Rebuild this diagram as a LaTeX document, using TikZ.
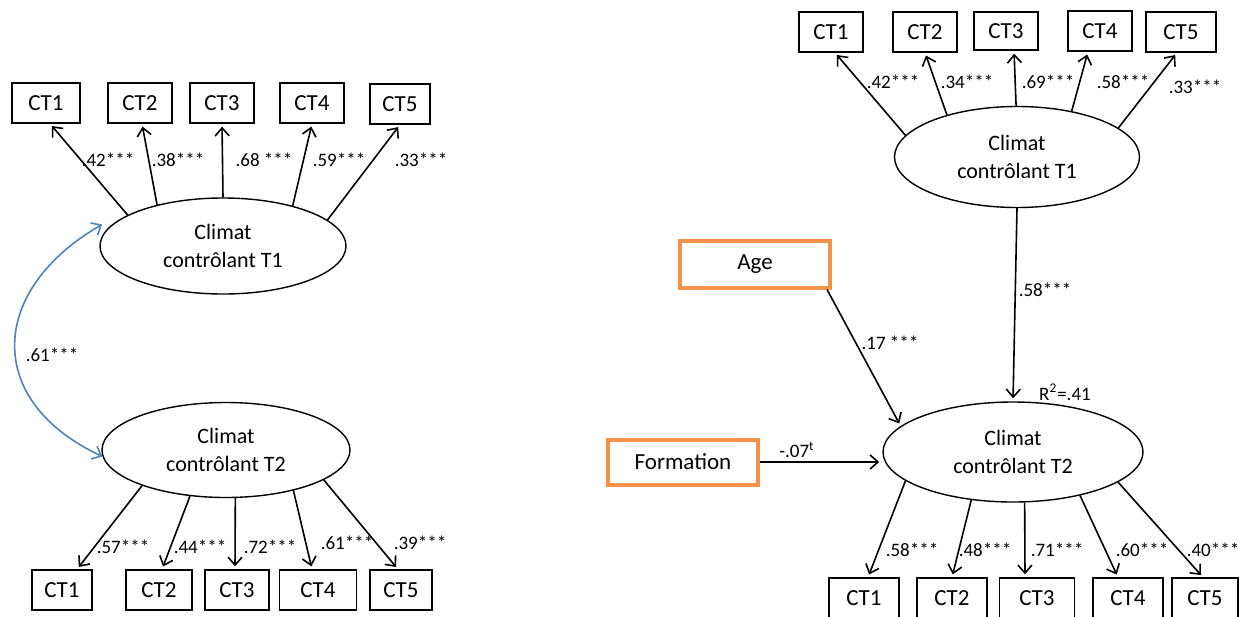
\documentclass[tikz,border=0pt]{standalone}
\usepackage{fontspec}
\setmainfont{Carlito}
\usepackage{tikz}
\usetikzlibrary{arrows.meta, positioning, shapes.geometric}
\tikzset{>={Straight Barb[length=4pt,width=7pt]}}
\usepackage{xcolor}
\definecolor{semblue}{RGB}{79,129,189}
\definecolor{semorange}{RGB}{245,146,72}
\tikzset{
  item/.style={draw, line width=0.7pt, minimum width=32pt, minimum height=20pt, inner sep=0pt, font=\fontsize{11.5}{13}\selectfont},
  latent/.style={ellipse, draw, line width=0.7pt, align=center, inner sep=0pt, font=\fontsize{11}{14}\selectfont},
  covbox/.style={draw=semorange, line width=2pt, minimum width=75pt, minimum height=23.5pt, inner sep=0pt, font=\fontsize{11.5}{13}\selectfont},
  coef/.style={inner sep=0pt, font=\fontsize{9.5}{11}\selectfont},
  load/.style={->, line width=0.8pt, shorten >=1.5pt},
  covar/.style={<->, draw=semblue, line width=0.8pt}
}

\begin{document}
\begin{tikzpicture}[x=0.5pt, y=-0.5pt]
  \useasboundingbox (0,0) rectangle (1242,616);
  \node[item, minimum width=34pt] (la1) at (46,103) {CT1};
  \node[item] (la2) at (140,103) {CT2};
  \node[item] (la3) at (222,103) {CT3};
  \node[item] (la4) at (312,103) {CT4};
  \node[item, minimum width=30pt] (la5) at (400,104) {CT5};
  \node[latent, minimum width=123pt, minimum height=48pt] (lclim1) at (223,246) {Climat\\contrôlant T1};
  \node[latent, minimum width=124pt, minimum height=47.5pt] (lclim2) at (226,450) {Climat\\contrôlant T2};
  \node[item, minimum width=30pt] (lb1) at (62,590) {CT1};
  \node[item, minimum width=33pt] (lb2) at (159,590) {CT2};
  \node[item] (lb3) at (237,590) {CT3};
  \node[item, minimum width=38.5pt] (lb4) at (318,590) {CT4};
  \node[item, minimum width=31pt] (lb5) at (401,590) {CT5};

  \draw[load] (lclim1.162) -- ([xshift=2pt]la1.south);
  \draw[load] (lclim1.148) -- ([xshift=1pt]la2.south);
  \draw[load] (lclim1.north) -- (la3.south);
  \draw[load] (lclim1.30) -- (la4.south);
  \draw[load] (lclim1.14) -- (la5.south);
  \node[coef] (l42) at (108,160) {.42***};
  \node[coef] (l38) at (178,160) {.38***};
  \node[coef] (l68) at (264,160) {.68 ***};
  \node[coef] (l59) at (339,160) {.59***};
  \node[coef] (l33) at (421,160) {.33***};

  \draw[load] (lclim2.203) -- ([xshift=7.5pt]lb1.north);
  \draw[load] (lclim2.232) -- ([xshift=1.5pt]lb2.north);
  \draw[load] (lclim2.281) -- ([xshift=-1pt]lb3.north);
  \draw[load] (lclim2.329) -- ([xshift=-3pt]lb4.north);
  \draw[load] (lclim2.343) -- ([xshift=-1.5pt]lb5.north);
  \node[coef] (l57) at (123,547) {.57***};
  \node[coef] (l44) at (200,547) {.44***};
  \node[coef] (l72) at (270,547) {.72***};
  \node[coef] (l61b) at (347,543) {.61***};
  \node[coef] (l39) at (420,543) {.39***};

  \draw[covar] ([xshift=-5pt]lclim1.169) to[out=210, in=155, looseness=1.45] (lclim2.183);
  \node[coef] (l61) at (52,355) {.61***};

  \node[item] (ra1) at (831,32) {CT1};
  \node[item] (ra2) at (925,32) {CT2};
  \node[item, minimum height=19pt] (ra3) at (1006,31) {CT3};
  \node[item] (ra4) at (1100,31) {CT4};
  \node[item, minimum width=35pt] (ra5) at (1181,32) {CT5};
  \node[latent, minimum width=122.5pt, minimum height=50.5pt] (rclim1) at (1017,157) {Climat\\contrôlant T1};
  \node[latent, minimum width=130pt, minimum height=50pt] (rclim2) at (1013,452) {Climat\\contrôlant T2};
  \node[covbox] (age) at (755,264) {Age};
  \node[covbox, minimum height=22.5pt] (form) at (683,462) {Formation};
  \node[item, minimum width=35pt] (rb1) at (864,598) {CT1};
  \node[item, minimum width=35pt] (rb2) at (952,598) {CT2};
  \node[item, minimum width=37.5pt] (rb3) at (1037,598) {CT3};
  \node[item, minimum width=35pt] (rb4) at (1128,598) {CT4};
  \node[item, minimum width=33pt] (rb5) at (1205,598) {CT5};

  \draw[load] (rclim1.169) -- ([xshift=2pt]ra1.south);
  \draw[load] (rclim1.149) -- (ra2.south);
  \draw[load] (rclim1.91) -- ([xshift=4pt]ra3.south);
  \draw[load] (rclim1.40) -- ([xshift=-6pt]ra4.south);
  \draw[load] (rclim1.16) -- ([xshift=-2pt]ra5.south);
  \node[coef] (r42) at (893,82) {.42***};
  \node[coef] (r34) at (967,82) {.34***};
  \node[coef] (r69) at (1048,82) {.69***};
  \node[coef] (r58a) at (1123,82) {.58***};
  \node[coef] (r33) at (1195,87) {.33***};

  \draw[load] (rclim1.south) -- (rclim2.north);
  \node[coef] (r58) at (1045,290) {.58***};
  \node[coef] (rsq) at (1065,392) {R\textsuperscript{2}=.41};
  \draw[load] ([xshift=-2.5pt]age.south east) -- (rclim2.167);
  \node[coef] (r17) at (890,343) {.17 ***};
  \draw[load] (form.east) -- (rclim2.west |- form.east);
  \node[coef] (r07) at (797,450) {-.07\textsuperscript{t}};

  \draw[load] (rclim2.195) -- ([xshift=2pt]rb1.north);
  \draw[load] (rclim2.229) -- (rb2.north);
  \draw[load] (rclim2.283) -- ([xshift=-6pt]rb3.north);
  \draw[load] (rclim2.327) -- ([xshift=-5pt]rb4.north);
  \draw[load] (rclim2.344) -- ([xshift=-1pt]rb5.north);
  \node[coef] (r58b) at (912,550) {.58***};
  \node[coef] (r48) at (985,550) {.48***};
  \node[coef] (r71) at (1057,550) {.71***};
  \node[coef] (r60) at (1142,550) {.60***};
  \node[coef] (r40) at (1213,550) {.40***};
\end{tikzpicture}
\end{document}
